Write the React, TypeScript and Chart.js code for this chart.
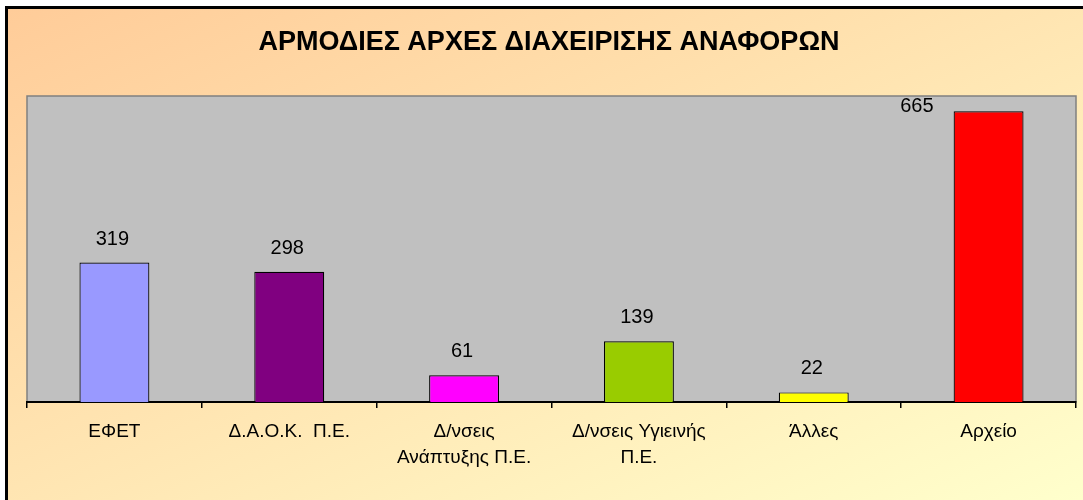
import React, { useEffect, useRef } from "react";
import { Chart, registerables } from "chart.js";

Chart.register(...registerables);

const titleText = "ΑΡΜΟΔΙΕΣ ΑΡΧΕΣ ΔΙΑΧΕΙΡΙΣΗΣ ΑΝΑΦΟΡΩΝ";
const categories: (string | string[])[] = [
  "ΕΦΕΤ",
  "Δ.Α.Ο.Κ.  Π.Ε.",
  ["Δ/νσεις", "Ανάπτυξης Π.Ε."],
  ["Δ/νσεις Υγιεινής", "Π.Ε."],
  "Άλλες",
  "Αρχείο",
];
const values = [319, 298, 61, 139, 22, 665];
const barColors = ["#9999FF", "#800080", "#FF00FF", "#99CC00", "#FFFF00", "#FF0000"];
const yMin = 0;
const yMax = 700;

const FONT = "'Liberation Sans', Arial, sans-serif";

const plotBg = {
  id: "plotBg",
  beforeDraw(chart: any) {
    const { ctx, chartArea: a } = chart;
    ctx.save();
    ctx.fillStyle = "#C0C0C0";
    ctx.fillRect(a.left, a.top, a.right - a.left, a.bottom - a.top);
    ctx.strokeStyle = "#808080";
    ctx.lineWidth = 1.5;
    ctx.strokeRect(a.left, a.top, a.right - a.left, a.bottom - a.top);
    ctx.restore();
  },
};

const labelsAndTitle = {
  id: "labelsAndTitle",
  afterDraw(chart: any) {
    const { ctx, chartArea: a } = chart;
    ctx.save();
    ctx.fillStyle = "#000";
    ctx.font = `bold 27px ${FONT}`;
    ctx.textAlign = "center";
    ctx.textBaseline = "middle";
    ctx.fillText(titleText, 549, 43);

    ctx.font = `20px ${FONT}`;
    ctx.textBaseline = "alphabetic";
    const meta = chart.getDatasetMeta(0);
    meta.data.forEach((bar: any, i: number) => {
      const txt = String(values[i]);
      const yBase = bar.y - 18;
      if (yBase - 16 < a.top) {
        ctx.textAlign = "right";
        ctx.fillText(txt, bar.x - bar.width / 2 - 20, bar.y + 1);
      } else {
        ctx.textAlign = "center";
        ctx.fillText(txt, bar.x - 2, yBase);
      }
    });
    ctx.restore();
  },
};

export default function App() {
  const ref = useRef<HTMLCanvasElement | null>(null);
  useEffect(() => {
    if (!ref.current) return;
    const chart = new Chart(ref.current, {
      type: "bar",
      data: {
        labels: categories,
        datasets: [
          {
            data: values,
            backgroundColor: barColors,
            borderColor: "#000",
            borderWidth: 1.2,
            barPercentage: 0.4,
            categoryPercentage: 1,
          },
        ],
      },
      options: {
        animation: false,
        responsive: false,
        layout: { padding: { left: 27, right: 7, top: 96, bottom: 0 } },
        plugins: {
          legend: { display: false },
          title: { display: false },
          tooltip: { enabled: false },
        },
        scales: {
          y: { display: false, min: yMin, max: yMax },
          x: {
            afterFit: (scale: any) => {
              scale.height = 98;
            },
            border: { display: true, color: "#000", width: 2 },
            grid: {
              display: true,
              drawOnChartArea: false,
              drawTicks: true,
              tickLength: 6,
              color: "#000",
              lineWidth: 1.5,
              offset: true,
            },
            ticks: {
              color: "#000",
              padding: 11,
              maxRotation: 0,
              autoSkip: false,
              font: { family: FONT, size: 19, lineHeight: 26 / 19 },
            },
          },
        },
      },
      plugins: [plotBg, labelsAndTitle],
    });
    return () => chart.destroy();
  }, []);

  return (
    <>
      <div
        style={{
          position: "absolute",
          left: 5,
          top: 6,
          width: 1078,
          height: 494,
          boxSizing: "border-box",
          borderLeft: "3px solid #000",
          borderTop: "3px solid #000",
          background: "linear-gradient(to bottom right, #FFCC99, #FFFFCC)",
        }}
      />
      <div style={{ position: "absolute", left: 0, top: 0, width: 1083, height: 500 }}>
        <canvas ref={ref} width={1083} height={500} style={{ width: 1083, height: 500 }} />
      </div>
    </>
  );
}
